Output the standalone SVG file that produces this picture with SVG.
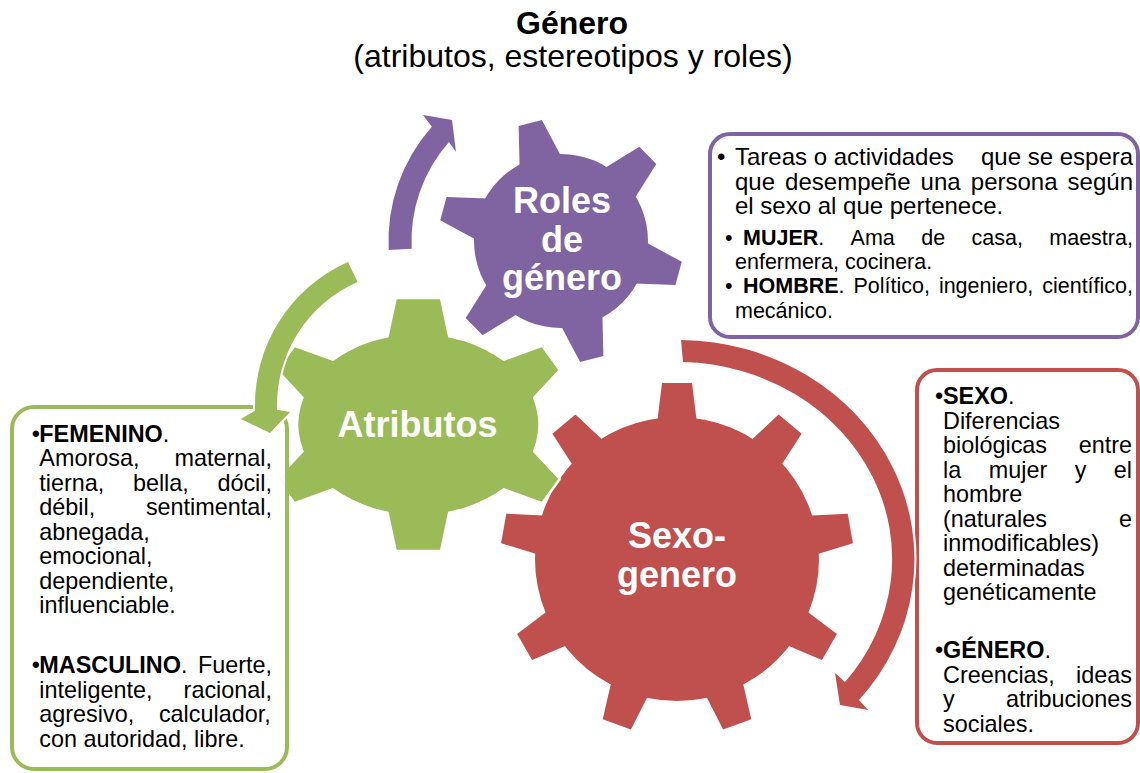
<svg xmlns="http://www.w3.org/2000/svg" xmlns:xlink="http://www.w3.org/1999/xlink" width="1140" height="773" viewBox="0 0 1140 773">
<style>
text{font-family:"Liberation Sans",Arial,Helvetica,sans-serif}
.ttl{font-size:32px;text-anchor:middle;fill:#000}
.lbl{font-size:36px;font-weight:bold;fill:#fff;text-anchor:middle}
.p24{font-size:24px;fill:#000}
.p21{font-size:21.5px;fill:#000}
.p23{font-size:23.4px;fill:#000}
.b{font-weight:bold}
.box{fill:#fff;stroke-width:4}
.halo{fill:#fff;stroke:#fff;stroke-width:5;stroke-linejoin:round}
.arr{stroke:#fff;stroke-width:4;paint-order:stroke;stroke-linejoin:round}
</style>
<defs>
<polygon id="tP" points="-12,-122 12,-122 23.1,-75 -23.1,-75"/>
<polygon id="tR" points="-15,-176 15,-176 21.3,-125 -21.3,-125"/>
<g id="shG">
<ellipse cx="418.3" cy="424.5" rx="120" ry="90"/>
<polygon points="385.8,350 396.7,299.3 440,299.3 450.8,350"/>
<polygon points="385.8,499 396.7,549.7 440,549.7 450.8,499"/>
<polygon points="492.7,365.1 541.7,347.3 558.3,370 523.3,407.4"/>
<polygon points="492.7,483.9 541.7,501.7 558.3,479 523.3,441.6"/>
<polygon points="343.9,365.1 294.9,347.3 278.3,370 313.3,407.4"/>
<polygon points="343.9,483.9 294.9,501.7 278.3,479 313.3,441.6"/>
</g>
</defs>
<rect width="1140" height="773" fill="#fff"/>

<g id="title">
<text class="ttl" x="572" y="34" font-weight="bold">Género</text>
<text class="ttl" x="573" y="67">(atributos, estereotipos y roles)</text>
</g>

<g id="gear-sexo-genero" fill="#C0504D">
<circle cx="677" cy="559" r="142"/>
<g transform="translate(677,559)">
<use xlink:href="#tR"/>
<use xlink:href="#tR" transform="rotate(40)"/>
<use xlink:href="#tR" transform="rotate(80)"/>
<use xlink:href="#tR" transform="rotate(120)"/>
<use xlink:href="#tR" transform="rotate(160)"/>
<use xlink:href="#tR" transform="rotate(200)"/>
<use xlink:href="#tR" transform="rotate(240)"/>
<use xlink:href="#tR" transform="rotate(280)"/>
<use xlink:href="#tR" transform="rotate(320)"/>
</g>
<text class="lbl" x="677" y="548">Sexo-</text>
<text class="lbl" x="677" y="587">genero</text>
</g>

<g id="gear-atributos">
<use xlink:href="#shG" class="halo"/>
<use xlink:href="#shG" fill="#9BBB59"/>
<text class="lbl" x="417.5" y="437">Atributos</text>
</g>

<g id="gear-roles" fill="#8064A2">
<circle cx="561" cy="241" r="87"/>
<g transform="translate(561,241)">
<use xlink:href="#tP" transform="rotate(-14.6)"/>
<use xlink:href="#tP" transform="rotate(45.4)"/>
<use xlink:href="#tP" transform="rotate(105.4)"/>
<use xlink:href="#tP" transform="rotate(165.4)"/>
<use xlink:href="#tP" transform="rotate(225.4)"/>
<use xlink:href="#tP" transform="rotate(285.4)"/>
</g>
<text class="lbl" x="562" y="213">Roles</text>
<text class="lbl" x="562" y="252">de</text>
<text class="lbl" x="562" y="290">género</text>
</g>

<g id="box-roles">
<rect class="box" x="710" y="134" width="428" height="203" rx="20" stroke="#8064A2"/>
<text class="p24" y="165"><tspan x="717">•</tspan><tspan x="735">Tareas o actividades</tspan><tspan x="981">que se espera</tspan></text>
<text class="p24" y="190"><tspan x="735">que</tspan><tspan x="785.1">desempeñe</tspan><tspan x="920.6">una</tspan><tspan x="970.8">persona</tspan><tspan x="1067.6">según</tspan></text>
<text class="p24" x="735" y="214">el sexo al que pertenece.</text>
<text class="p21" y="244.5"><tspan x="725">•</tspan><tspan x="743" class="b">MUJER</tspan><tspan>.</tspan><tspan x="850.6">Ama</tspan><tspan x="921.2">de</tspan><tspan x="971.5">casa,</tspan><tspan x="1049.3">maestra,</tspan></text>
<text class="p21" x="735" y="268.5">enfermera, cocinera.</text>
<text class="p21" y="293"><tspan x="725">•</tspan><tspan x="743" class="b">HOMBRE</tspan><tspan>.</tspan><tspan x="853.4">Político,</tspan><tspan x="938.9">ingeniero,</tspan><tspan x="1042.2">científico,</tspan></text>
<text class="p21" x="735" y="317.5">mecánico.</text>
</g>

<g id="box-sexo">
<rect class="box" x="917" y="370" width="221" height="373" rx="20" stroke="#C0504D"/>
<text class="p23" y="404"><tspan x="935">•</tspan><tspan x="943" class="b">SEXO</tspan><tspan>.</tspan></text>
<text class="p23" x="943" y="428.5">Diferencias</text>
<text class="p23" y="453"><tspan x="943">biológicas</tspan><tspan x="1078.7">entre</tspan></text>
<text class="p23" y="477.5"><tspan x="943">la</tspan><tspan x="988.7">mujer</tspan><tspan x="1074.7">y</tspan><tspan x="1113.8">el</tspan></text>
<text class="p23" x="943" y="502">hombre</text>
<text class="p23" y="526.5"><tspan x="943">(naturales</tspan><tspan x="1119">e</tspan></text>
<text class="p23" x="943" y="551">inmodificables)</text>
<text class="p23" x="943" y="575.5">determinadas</text>
<text class="p23" x="943" y="600">genéticamente</text>
<text class="p23" y="658"><tspan x="935">•</tspan><tspan x="943" class="b">GÉNERO</tspan><tspan>.</tspan></text>
<text class="p23" y="682.5"><tspan x="943">Creencias,</tspan><tspan x="1076.1">ideas</tspan></text>
<text class="p23" y="707"><tspan x="943">y</tspan><tspan x="1005.9">atribuciones</tspan></text>
<text class="p23" x="943" y="731.5">sociales.</text>
</g>

<g id="box-atributos">
<rect class="box" x="12" y="407" width="275" height="362" rx="22" stroke="#9BBB59" fill-opacity="0.93"/>
<text class="p23" y="441.5"><tspan x="31.7">•</tspan><tspan x="39.3" class="b">FEMENINO</tspan><tspan>.</tspan></text>
<text class="p23" y="466"><tspan x="39.3">Amorosa,</tspan><tspan x="174.5">maternal,</tspan></text>
<text class="p23" y="490.5"><tspan x="39.3">tierna,</tspan><tspan x="132.9">bella,</tspan><tspan x="217.4">dócil,</tspan></text>
<text class="p23" y="515"><tspan x="39.3">débil,</tspan><tspan x="145.9">sentimental,</tspan></text>
<text class="p23" x="39.3" y="539.5">abnegada,</text>
<text class="p23" x="39.3" y="564">emocional,</text>
<text class="p23" x="39.3" y="588.5">dependiente,</text>
<text class="p23" x="39.3" y="613">influenciable.</text>
<text class="p23" y="673"><tspan x="31.7">•</tspan><tspan x="39.3" class="b">MASCULINO</tspan><tspan>.</tspan><tspan x="197.9">Fuerte,</tspan></text>
<text class="p23" y="697.5"><tspan x="39.3">inteligente,</tspan><tspan x="183.6">racional,</tspan></text>
<text class="p23" y="722"><tspan x="39.3">agresivo,</tspan><tspan x="158.9">calculador,</tspan></text>
<text class="p23" x="39.3" y="746.5">con autoridad, libre.</text>
</g>

<g id="connectors">
<path class="arr" fill="#8064A2" d="M388.7,250 A172.5,172.5 0 0 1 431.8,126.7 L423,115 L452,120 L456,152 L449,141.9 A149.5,149.5 0 0 0 411.7,248.8 Z"/>
<path class="arr" fill="#9BBB59" d="M348,262 A156,156 0 0 0 255.1,410.4 L241,419 L270,433 L290,412 L277.1,409.7 A134,134 0 0 1 357.6,282.1 Z"/>
<path class="arr" fill="#C0504D" d="M681,340 A236,219 0 0 1 859,700 L868,710 L840,705 L835,673 L845,682 A215,197 0 0 0 683,362 Z"/>
</g>
</svg>
